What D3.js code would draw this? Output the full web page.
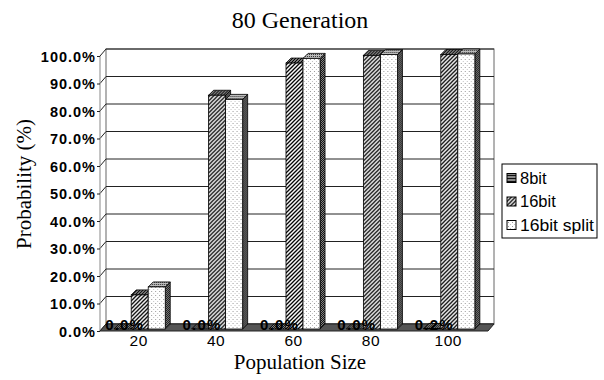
<!DOCTYPE html>
<html>
<head>
<meta charset="utf-8">
<script src="https://cdn.jsdelivr.net/npm/d3@7"></script>
<style>
  body { margin: 0; background: #fff; }
  svg { display: block; }
  .tick text { font-family: "Liberation Sans", Arial, sans-serif; fill: #000; }
</style>
</head>
<body>
<div id="chart"></div>
<script>
// chart values (percent)
const sizes = ['20', '40', '60', '80', '100'];
const seriesNames = ['8bit', '16bit', '16bit split'];
const bit8 = [0, 0, 0, 0, 0.2];
const bit16 = [12.4, 85.0, 96.7, 99.5, 99.8];
const bit16split = [15.3, 83.5, 98.4, 99.8, 100];
const yTicks = [0, 10, 20, 30, 40, 50, 60, 70, 80, 90, 100];

const width = 604, height = 380;
const svg = d3.select('#chart').append('svg')
  .attr('width', width)
  .attr('height', height);

// 3d look: how far the back wall sits from the front plane
const wallDx = 6, wallDy = -7;
const barDx = 5, barDy = -5;
const left = 100, right = 488;

const y = d3.scaleLinear().domain([0, 100]).range([331, 56]);
const x = d3.scaleBand().domain(sizes).range([left, right - 1])
  .paddingInner(0.34).paddingOuter(0.17);
const xs = d3.scaleBand().domain(seriesNames).range([0, x.bandwidth()]);

// fill patterns, roughly like the old printer hatches
const defs = svg.append('defs');

const hatch = defs.append('pattern').attr('id', 'hatch')
  .attr('patternUnits', 'userSpaceOnUse').attr('width', 4).attr('height', 4);
hatch.append('rect').attr('width', 4).attr('height', 4).attr('fill', '#fff');
hatch.append('path').attr('d', 'M-1,1 l2,-2 M0,4 l4,-4 M3,5 l2,-2')
  .attr('stroke', '#000').attr('stroke-width', 1.3);

const hatchDark = defs.append('pattern').attr('id', 'hatchDark')
  .attr('patternUnits', 'userSpaceOnUse').attr('width', 3).attr('height', 3);
hatchDark.append('rect').attr('width', 3).attr('height', 3).attr('fill', '#777');
hatchDark.append('path').attr('d', 'M-1,1 l2,-2 M0,3 l3,-3 M2,4 l2,-2')
  .attr('stroke', '#000').attr('stroke-width', 1);

const dots = defs.append('pattern').attr('id', 'dots')
  .attr('patternUnits', 'userSpaceOnUse').attr('width', 4).attr('height', 4);
dots.append('rect').attr('width', 4).attr('height', 4).attr('fill', '#fff');
dots.append('rect').attr('x', 1).attr('y', 1).attr('width', 1).attr('height', 1).attr('fill', '#9a9a9a');
dots.append('rect').attr('x', 3).attr('y', 3).attr('width', 1).attr('height', 1).attr('fill', '#c4c4c4');

const checker = defs.append('pattern').attr('id', 'checker')
  .attr('patternUnits', 'userSpaceOnUse').attr('width', 2).attr('height', 2);
checker.append('rect').attr('width', 2).attr('height', 2).attr('fill', '#888');
checker.append('rect').attr('width', 1).attr('height', 1).attr('fill', '#111');
checker.append('rect').attr('x', 1).attr('y', 1).attr('width', 1).attr('height', 1).attr('fill', '#111');

const checkerLight = defs.append('pattern').attr('id', 'checkerLight')
  .attr('patternUnits', 'userSpaceOnUse').attr('width', 2).attr('height', 2);
checkerLight.append('rect').attr('width', 2).attr('height', 2).attr('fill', '#bbb');
checkerLight.append('rect').attr('width', 1).attr('height', 1).attr('fill', '#333');

const lines = defs.append('pattern').attr('id', 'lines')
  .attr('patternUnits', 'userSpaceOnUse').attr('width', 3).attr('height', 3);
lines.append('rect').attr('width', 3).attr('height', 3).attr('fill', '#888');
lines.append('rect').attr('width', 3).attr('height', 1).attr('fill', '#111');

const fills = {
  '8bit': { front: 'url(#lines)', top: 'url(#checker)', side: 'url(#checker)', legend: 'url(#lines)' },
  '16bit': { front: 'url(#hatch)', top: 'url(#hatchDark)', side: 'url(#checker)', legend: 'url(#hatch)' },
  '16bit split': { front: 'url(#dots)', top: 'url(#checkerLight)', side: 'url(#checker)', legend: 'url(#dots)' }
};

// walls, grid and floor
const wall = svg.append('g');
const y0 = y(0), y100 = y(100);

wall.append('rect')
  .attr('x', left + wallDx).attr('y', y100 + wallDy)
  .attr('width', right - left).attr('height', y0 - y100)
  .attr('fill', '#fff').attr('stroke', '#666');

wall.selectAll('line.grid').data(yTicks).join('line')
  .attr('class', 'grid')
  .attr('x1', left + wallDx).attr('x2', right + wallDx)
  .attr('y1', d => y(d) + wallDy).attr('y2', d => y(d) + wallDy)
  .attr('stroke', '#222');

wall.selectAll('line.side').data(yTicks).join('line')
  .attr('class', 'side')
  .attr('x1', left).attr('x2', left + wallDx)
  .attr('y1', d => y(d)).attr('y2', d => y(d) + wallDy)
  .attr('stroke', '#222');

wall.append('line')
  .attr('x1', left).attr('x2', left)
  .attr('y1', y100).attr('y2', y0)
  .attr('stroke', '#888');

wall.append('path')
  .attr('d', `M${left},${y0} L${right},${y0} L${right + wallDx},${y0 + wallDy} L${left + wallDx},${y0 + wallDy} Z`)
  .attr('fill', '#555').attr('stroke', '#222');

// bars
const table = sizes.map((s, i) => ({
  size: s,
  values: [
    { name: '8bit', value: bit8[i] },
    { name: '16bit', value: bit16[i] },
    { name: '16bit split', value: bit16split[i] }
  ]
}));

const barOffX = 1, barOffY = -2;
const bw = xs.bandwidth();

const groups = svg.append('g').selectAll('g').data(table).join('g')
  .attr('transform', d => `translate(${x(d.size) + barOffX},${barOffY})`);

groups.each(function (g) {
  const grp = d3.select(this);
  g.values.forEach(v => {
    const bx = xs(v.name);
    const top = y(v.value);
    const f = fills[v.name];
    // right side face
    grp.append('path')
      .attr('d', `M${bx + bw},${top} L${bx + bw + barDx},${top + barDy} L${bx + bw + barDx},${y0 + barDy} L${bx + bw},${y0} Z`)
      .attr('fill', f.side).attr('stroke', '#000').attr('stroke-width', 0.8);
    // top face
    grp.append('path')
      .attr('d', `M${bx},${top} L${bx + barDx},${top + barDy} L${bx + bw + barDx},${top + barDy} L${bx + bw},${top} Z`)
      .attr('fill', f.top).attr('stroke', '#000').attr('stroke-width', 0.8);
    // front face
    if (y0 - top > 0.5) {
      grp.append('rect')
        .attr('x', bx).attr('y', top)
        .attr('width', bw).attr('height', y0 - top)
        .attr('fill', f.front).attr('stroke', '#000').attr('stroke-width', 0.8);
    }
  });
});

// value labels of the flat 8bit bars
svg.append('g').selectAll('text').data(table).join('text')
  .attr('x', d => x(d.size) + xs('8bit') + bw / 2 + 3)
  .attr('y', y0 - 1)
  .attr('text-anchor', 'middle')
  .attr('font-family', '"Liberation Sans", Arial, sans-serif')
  .attr('font-size', 15)
  .attr('font-weight', 'bold')
  .attr('letter-spacing', 1.2)
  .text(d => d3.format('.1f')(d.values[0].value) + '%');

// axes
const yAxis = d3.axisLeft(y)
  .tickValues(yTicks)
  .tickSize(3)
  .tickPadding(1)
  .tickFormat(d => d3.format('.1f')(d) + '%');

svg.append('g')
  .attr('transform', `translate(${left},0)`)
  .call(yAxis)
  .call(g => g.select('.domain').remove())
  .call(g => g.selectAll('.tick line').attr('stroke', '#222'))
  .call(g => g.selectAll('.tick text')
    .attr('dy', '0.36em')
    .attr('font-size', 14.5)
    .attr('font-weight', 'bold')
    .attr('letter-spacing', 1));

const xAxis = d3.axisBottom(x).tickSize(0).tickPadding(4);
svg.append('g')
  .attr('transform', `translate(0,${y0})`)
  .call(xAxis)
  .call(g => g.select('.domain').remove())
  .call(g => g.selectAll('.tick text')
    .attr('dy', '0.71em')
    .attr('font-size', 15.5)
    .attr('letter-spacing', 0.5));

// titles
svg.append('text')
  .attr('x', 300).attr('y', 28)
  .attr('text-anchor', 'middle')
  .attr('font-family', '"Liberation Serif", "Times New Roman", serif')
  .attr('font-size', 24)
  .text('80 Generation');

svg.append('text')
  .attr('x', 300).attr('y', 369)
  .attr('text-anchor', 'middle')
  .attr('font-family', '"Liberation Serif", "Times New Roman", serif')
  .attr('font-size', 21)
  .text('Population Size');

svg.append('text')
  .attr('transform', 'translate(31,184) rotate(-90)')
  .attr('text-anchor', 'middle')
  .attr('font-family', '"Liberation Serif", "Times New Roman", serif')
  .attr('font-size', 21)
  .text('Probability (%)');

// legend
const legend = svg.append('g').attr('transform', 'translate(502,164)');
legend.append('rect')
  .attr('width', 95).attr('height', 74)
  .attr('fill', '#fff').attr('stroke', '#000');

const item = legend.selectAll('g').data(seriesNames).join('g')
  .attr('transform', (d, i) => `translate(5,${14 + i * 23.5})`);

item.append('rect')
  .attr('x', 0).attr('y', -4.5).attr('width', 9).attr('height', 9)
  .attr('fill', d => fills[d].legend).attr('stroke', '#000');

item.append('text')
  .attr('x', 13).attr('y', 0).attr('dy', '0.36em')
  .attr('font-family', '"Liberation Sans", Arial, sans-serif')
  .attr('font-size', 16.5)
  .attr('textLength', d => d === '16bit split' ? 74 : null)
  .attr('lengthAdjust', 'spacingAndGlyphs')
  .text(d => d);
</script>
</body>
</html>
